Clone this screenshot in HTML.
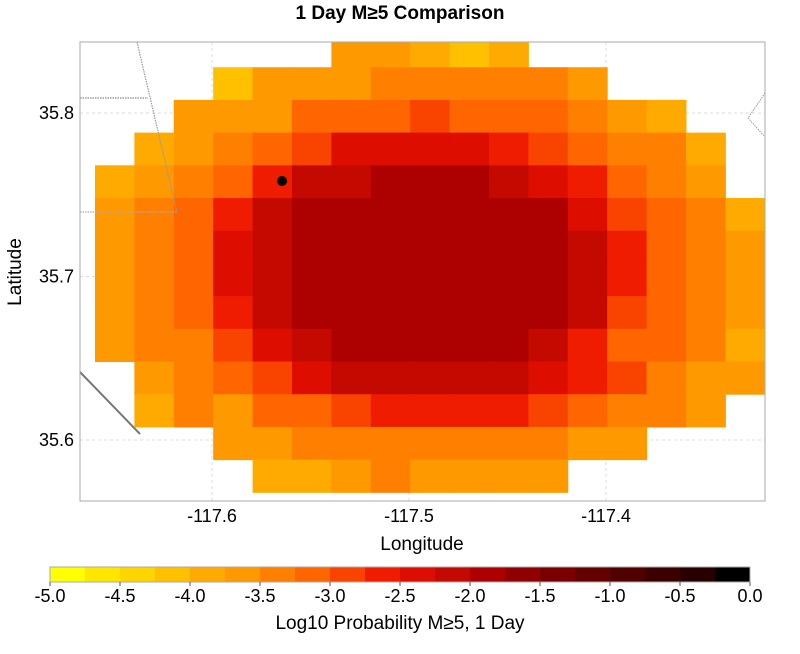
<!DOCTYPE html>
<html><head><meta charset="utf-8"><style>
body{margin:0;background:#fff;width:800px;height:649px;overflow:hidden;font-family:"Liberation Sans",sans-serif}
svg text{font-family:"Liberation Sans",sans-serif}
</style></head><body>
<svg id="chart" width="800" height="649" xmlns="http://www.w3.org/2000/svg">
<text x="400" y="19" text-anchor="middle" font-size="19" font-weight="bold">1 Day M≥5 Comparison</text>
<g id="grid"></g>
<g id="cells"></g>
<g fill="none">
<polyline points="137,42 177,212" stroke="#999" stroke-width="1.2" stroke-dasharray="1.5,1"/>
<polyline points="80,98 148,98" stroke="#888" stroke-width="1.2" stroke-dasharray="1.5,1"/>
<polyline points="80,212 177,212" stroke="#aaa" stroke-width="1.2" stroke-dasharray="1.5,1"/>
<polyline points="80,372 140,434" stroke="#777" stroke-width="2"/>
<polyline points="765,93 748,118 765,137" stroke="#999" stroke-width="1" stroke-dasharray="1.5,1"/>
</g>
<circle cx="282" cy="181" r="5" fill="#000"/>
<rect x="80" y="42" width="685" height="459" fill="none" stroke="#aaa"/>
<g id="axes" font-size="18"></g>
<text x="422" y="550" text-anchor="middle" font-size="19">Longitude</text>
<text transform="translate(21,272) rotate(-90)" text-anchor="middle" font-size="19">Latitude</text>
<g id="cbar"></g>
<text x="400" y="629" text-anchor="middle" font-size="19">Log10 Probability M≥5, 1 Day</text>
</svg>
<script>
// Data
const lonStart = -117.6594, latTop = 35.848, cellDeg = 0.02;
const rowStartCol = [6,3,2,1,0,0,0,0,0,0,1,1,3,4];
const rowValues = [
 [-3.625,-3.625,-3.875,-4.125,-3.875],
 [-4.125,-3.625,-3.625,-3.625,-3.375,-3.375,-3.375,-3.375,-3.375,-3.625],
 [-3.625,-3.625,-3.625,-3.125,-3.125,-3.125,-2.875,-3.125,-3.125,-3.125,-3.375,-3.625,-3.875],
 [-3.875,-3.625,-3.375,-3.125,-2.875,-2.375,-2.375,-2.375,-2.375,-2.625,-2.875,-3.125,-3.375,-3.375,-3.875],
 [-3.875,-3.625,-3.375,-3.125,-2.625,-2.125,-2.125,-1.875,-1.875,-1.875,-2.125,-2.375,-2.625,-3.125,-3.375,-3.625],
 [-3.625,-3.375,-3.125,-2.625,-2.125,-1.875,-1.875,-1.875,-1.875,-1.875,-1.875,-1.875,-2.375,-2.875,-3.125,-3.375,-3.875],
 [-3.625,-3.375,-3.125,-2.375,-2.125,-1.875,-1.875,-1.875,-1.875,-1.875,-1.875,-1.875,-2.125,-2.625,-3.125,-3.375,-3.625],
 [-3.625,-3.375,-3.125,-2.375,-2.125,-1.875,-1.875,-1.875,-1.875,-1.875,-1.875,-1.875,-2.125,-2.625,-3.125,-3.375,-3.625],
 [-3.625,-3.375,-3.125,-2.625,-2.125,-1.875,-1.875,-1.875,-1.875,-1.875,-1.875,-1.875,-2.125,-2.875,-3.125,-3.375,-3.625],
 [-3.625,-3.375,-3.375,-2.875,-2.375,-2.125,-1.875,-1.875,-1.875,-1.875,-1.875,-2.125,-2.625,-3.125,-3.125,-3.375,-3.875],
 [-3.625,-3.375,-3.125,-2.875,-2.375,-2.125,-2.125,-2.125,-2.125,-2.125,-2.375,-2.625,-2.875,-3.375,-3.625,-3.625],
 [-3.875,-3.375,-3.625,-3.125,-3.125,-2.875,-2.625,-2.625,-2.625,-2.625,-2.875,-3.125,-3.375,-3.375,-3.625],
 [-3.625,-3.625,-3.375,-3.375,-3.375,-3.375,-3.375,-3.375,-3.375,-3.625,-3.625],
 [-3.875,-3.875,-3.625,-3.375,-3.625,-3.625,-3.625,-3.625]
];
const xTicks = [-117.6,-117.5,-117.4];
const yTicks = [35.8,35.7,35.6];
const cbTicks = [-5.0,-4.5,-4.0,-3.5,-3.0,-2.5,-2.0,-1.5,-1.0,-0.5,0.0];
const palette = ["#ffff00","#ffe600","#ffd500","#ffc000","#ffaa00","#ff9900","#ff8000","#ff6600","#f94400","#f01c00","#dd0d00","#c40a00","#ad0000","#900000","#780000","#650000","#500000","#3c0000","#280000","#000000"];

const NS="http://www.w3.org/2000/svg";
const px0=80,px1=765,py0=42,py1=501;
const xs = lon => 212 + (lon+117.6)*1970;
const ys = lat => 113 + (35.8-lat)*1635;
const cb = v => 50 + (v+5)*140;
function colorOf(v){let i=Math.floor((v+5)/0.25);return palette[Math.max(0,Math.min(19,i))];}
function mk(tag,attrs,parent){const e=document.createElementNS(NS,tag);for(const k in attrs)e.setAttribute(k,attrs[k]);parent.appendChild(e);return e;}

const grid=document.getElementById('grid');
xTicks.forEach(t=>{const l=mk('line',{x1:xs(t),x2:xs(t),y1:py0,y2:py1,stroke:'#ddd','stroke-dasharray':'3,3'},grid);

});
yTicks.forEach(t=>{const l=mk('line',{x1:px0,x2:px1,y1:ys(t),y2:ys(t),stroke:'#ddd','stroke-dasharray':'3,3'},grid);

});

const cells=document.getElementById('cells');
rowValues.forEach((row,r)=>{
  const latHi=latTop-r*cellDeg, latLo=latHi-cellDeg;
  row.forEach((v,k)=>{
    const c=rowStartCol[r]+k;
    const lonL=lonStart+c*cellDeg, lonR=lonL+cellDeg;
    let x0=xs(lonL),x1=xs(lonR),y0=Math.max(ys(latHi),py0),y1=ys(latLo);
    const e=mk('rect',{x:x0,y:y0,width:x1-x0+0.5,height:y1-y0+0.5,fill:colorOf(v)},cells);
    
    
  });
});

const axes=document.getElementById('axes');
xTicks.forEach(t=>{const e=mk('text',{x:xs(t),y:522,'text-anchor':'middle'},axes);e.textContent=t.toFixed(1);

});
yTicks.forEach(t=>{const e=mk('text',{x:74,y:ys(t)+6,'text-anchor':'end'},axes);e.textContent=t.toFixed(1);

});

const cbar=document.getElementById('cbar');
palette.forEach((col,i)=>{const v=-5+i*0.25;const e=mk('rect',{x:cb(v),y:567,width:35.5,height:15,fill:col},cbar);

});
mk('rect',{x:50,y:567,width:700,height:15,fill:'none',stroke:'#aaa'},cbar);
cbTicks.forEach(t=>{mk('line',{x1:cb(t),x2:cb(t),y1:582,y2:586,stroke:'#555'},cbar);
const e=mk('text',{x:cb(t),y:602,'text-anchor':'middle','font-size':18},cbar);e.textContent=t.toFixed(1);

});
</script>
</body></html>
